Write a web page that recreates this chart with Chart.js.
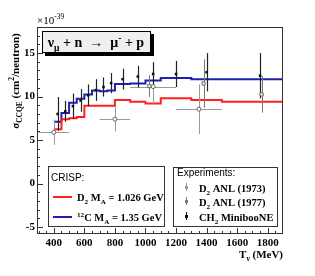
<!DOCTYPE html>
<html>
<head>
<meta charset="utf-8">
<script src="https://cdn.jsdelivr.net/npm/chart.js@4.4.0/dist/chart.umd.min.js"></script>
<style>
body { margin: 0; background: #fff; }
#marco { width: 315px; height: 276px; position: relative; }
</style>
</head>
<body>
<div id="marco"><canvas id="grafico"></canvas></div>
<script>
// Bins de las curvas CRISP (MeV) y valores (x10^-39 cm^2/neutron)
const bordesBin = [400, 450, 500, 550, 600, 650, 700, 750, 800, 900, 1000, 1100, 1300, 1500, 1900];
const crispD2 = [6.25, 7.4, 7.5, 7.65, 8.95, 8.95, 8.95, 8.95, 9.6, 9.4, 9.2, 9.8, 9.6, 9.4];
const crispC12 = [7.1, 8.1, 9.3, 9.75, 10.25, 10.7, 10.6, 10.7, 11.45, 11.5, 11.85, 12.15, 12.0, 12.0];

// MiniBooNE CH2
const mbE = [425, 475, 525, 575, 625, 675, 725, 775, 850, 950, 1050, 1200, 1400, 1750];
const mbSigma = [8.0, 8.3, 8.9, 9.55, 10.15, 10.75, 11.1, 11.55, 12.0, 12.3, 12.6, 12.6, 12.8, 12.4];
const mbErr = [1.95, 1.2, 1.45, 1.3, 1.25, 1.25, 1.1, 1.15, 1.2, 1.25, 1.35, 1.5, 2.2, 2.6];

// D2 ANL (1973)
const anl73E = [400, 800, 1050, 1350];
const anl73Sigma = [5.9, 7.4, 11.15, 8.55];
const anl73Err = [1.45, 1.4, 2.1, 2.85];
const anl73AnchoE = [100, 100, 150, 150];

// D2 ANL (1977)
const anl77E = [1025, 1380, 1760];
const anl77Sigma = [11.2, 11.5, 10.25];
const anl77Err = [1.25, 2.8, 2.1];

// Ticks
const ticksX = [400, 600, 800, 1000, 1200, 1400, 1600, 1800];
const ticksY = [-5, 0, 5, 10, 15];

const SERIF = "'Liberation Serif', 'DejaVu Serif', serif";
const SANS = "'Liberation Sans', Arial, sans-serif";

function pasosDe(valores) {
    return bordesBin.map((x, i) => ({ x: x, y: valores[Math.min(i, valores.length - 1)] }));
}

// Texto con subindices (1) y superindices (2)
function textoRico(ctx, partes, x, y, align, size, family, weight) {
    const fuente = s => `${weight} ${s}px ${family}`;
    let ancho = 0;
    partes.forEach(([t, k]) => {
        ctx.font = fuente(k ? size * 0.68 : size);
        ancho += ctx.measureText(t).width;
    });
    let cx = align === 'right' ? x - ancho : (align === 'center' ? x - ancho / 2 : x);
    partes.forEach(([t, k]) => {
        const s = k ? size * 0.68 : size;
        ctx.font = fuente(s);
        const dy = k === 1 ? size * 0.28 : (k === 2 ? -size * 0.42 : 0);
        ctx.fillText(t, cx, y + dy);
        cx += ctx.measureText(t).width;
    });
    return ancho;
}

const pluginDecoracion = {
    id: 'decoracion',
    beforeDatasetDraw(chart, args) {
        // barras de error antes de los marcadores
        if (args.index !== 4) return;
        const ctx = chart.ctx;
        const xs = chart.scales.x, ys = chart.scales.y;
        const area = chart.chartArea;
        ctx.save();
        ctx.beginPath();
        ctx.rect(area.left, area.top, area.right - area.left, area.bottom - area.top);
        ctx.clip();
        ctx.lineWidth = 1;

        ctx.strokeStyle = '#9a9a9a';
        anl73E.forEach((e, i) => {
            const px = Math.round(xs.getPixelForValue(e)) + 0.5;
            const py = Math.round(ys.getPixelForValue(anl73Sigma[i])) + 0.5;
            ctx.beginPath();
            ctx.moveTo(xs.getPixelForValue(e - anl73AnchoE[i]), py);
            ctx.lineTo(xs.getPixelForValue(e + anl73AnchoE[i]), py);
            ctx.moveTo(px, ys.getPixelForValue(anl73Sigma[i] + anl73Err[i]));
            ctx.lineTo(px, ys.getPixelForValue(anl73Sigma[i] - anl73Err[i]));
            ctx.stroke();
        });

        ctx.strokeStyle = '#777';
        anl77E.forEach((e, i) => {
            const px = Math.round(xs.getPixelForValue(e)) + 0.5;
            ctx.beginPath();
            ctx.moveTo(px, ys.getPixelForValue(anl77Sigma[i] + anl77Err[i]));
            ctx.lineTo(px, ys.getPixelForValue(anl77Sigma[i] - anl77Err[i]));
            ctx.stroke();
        });

        ctx.strokeStyle = '#222';
        ctx.lineWidth = 1.2;
        mbE.forEach((e, i) => {
            const px = Math.round(xs.getPixelForValue(e)) + 0.5;
            ctx.beginPath();
            ctx.moveTo(px, ys.getPixelForValue(mbSigma[i] + mbErr[i]));
            ctx.lineTo(px, ys.getPixelForValue(mbSigma[i] - mbErr[i]));
            ctx.stroke();
        });
        ctx.restore();
    },
    afterDraw(chart) {
        const ctx = chart.ctx;
        const xs = chart.scales.x, ys = chart.scales.y;
        const a = chart.chartArea;
        ctx.save();

        // marco
        ctx.strokeStyle = '#333';
        ctx.lineWidth = 1;
        ctx.strokeRect(Math.round(a.left) + 0.5, Math.round(a.top) + 0.5,
            Math.round(a.right - a.left) - 1, Math.round(a.bottom - a.top) - 1);

        // ticks hacia dentro
        ctx.beginPath();
        for (let v = 300; v <= 1900; v += 50) {
            const px = Math.round(xs.getPixelForValue(v)) + 0.5;
            if (px <= a.left + 1 || px >= a.right - 1) continue;
            const largo = v % 200 === 0 ? 6 : 3;
            ctx.moveTo(px, a.bottom);
            ctx.lineTo(px, a.bottom - largo);
        }
        for (let v = -5; v <= 18; v += 1) {
            const py = Math.round(ys.getPixelForValue(v)) + 0.5;
            const largo = v % 5 === 0 ? 6 : 3;
            ctx.moveTo(a.left, py);
            ctx.lineTo(a.left + largo, py);
        }
        ctx.stroke();

        ctx.fillStyle = '#000';
        ctx.textBaseline = 'alphabetic';

        // x10^-39
        textoRico(ctx, [['\u00d710', 0], ['-39', 2]], a.left, 24, 'left', 11, SERIF, 'normal');

        // titulo eje y
        ctx.save();
        ctx.translate(19, 81);
        ctx.rotate(-Math.PI / 2);
        textoRico(ctx, [['\u03c3', 0], ['CCQE', 1], [' (cm', 0], ['2', 2], ['/neutron)', 0]], 0, 0, 'center', 11, SERIF, 'bold');
        ctx.restore();

        // titulo eje x
        textoRico(ctx, [['T', 0], ['\u03bd', 1], [' (MeV)', 0]], a.right, 258, 'right', 11, SERIF, 'bold');

        // caja de la reaccion
        ctx.fillStyle = '#000';
        ctx.fillRect(45, 34, 109, 22);
        ctx.fillStyle = '#efefef';
        ctx.fillRect(42, 31, 109, 22);
        ctx.strokeStyle = '#000';
        ctx.strokeRect(42.5, 31.5, 108, 21);
        ctx.fillStyle = '#000';
        textoRico(ctx, [['\u03bd', 0], ['\u03bc', 1], [' + n  \u2192  \u03bc', 0], ['-', 2], [' + p', 0]], 96, 47, 'center', 14, SERIF, 'bold');

        // leyenda CRISP
        ctx.fillStyle = '#fff';
        ctx.fillRect(48, 166, 117, 61);
        ctx.strokeStyle = '#333';
        ctx.strokeRect(48.5, 166.5, 116, 60);
        ctx.fillStyle = '#000';
        ctx.font = `10px ${SANS}`;
        ctx.fillText('CRISP:', 51, 181);
        ctx.lineWidth = 2;
        ctx.strokeStyle = '#ff2020';
        ctx.beginPath(); ctx.moveTo(53, 197); ctx.lineTo(72, 197); ctx.stroke();
        ctx.strokeStyle = '#2020b0';
        ctx.beginPath(); ctx.moveTo(53, 217); ctx.lineTo(72, 217); ctx.stroke();
        textoRico(ctx, [['D', 0], ['2', 1], [' M', 0], ['A', 1], [' = 1.026 GeV', 0]], 77, 201, 'left', 10.5, SERIF, 'bold');
        textoRico(ctx, [['12', 2], ['C M', 0], ['A', 1], [' = 1.35 GeV', 0]], 77, 221, 'left', 10.5, SERIF, 'bold');

        // leyenda experimentos
        ctx.lineWidth = 1;
        ctx.fillStyle = '#fff';
        ctx.fillRect(173, 167, 105, 60);
        ctx.strokeStyle = '#333';
        ctx.strokeRect(173.5, 167.5, 104, 59);
        ctx.fillStyle = '#000';
        ctx.font = `10px ${SANS}`;
        ctx.fillText('Experiments:', 177, 176);
        const simbolos = [['#9a9a9a', 189], ['#777', 203], ['#111', 218]];
        simbolos.forEach(([c, yy]) => {
            ctx.strokeStyle = c;
            ctx.fillStyle = c;
            ctx.beginPath(); ctx.moveTo(186.5, yy - 6); ctx.lineTo(186.5, yy + 2); ctx.stroke();
            ctx.fillRect(185, yy - 3, 3, 3);
        });
        ctx.fillStyle = '#000';
        textoRico(ctx, [['D', 0], ['2', 1], [' ANL (1973)', 0]], 199, 192, 'left', 10.5, SERIF, 'bold');
        textoRico(ctx, [['D', 0], ['2', 1], [' ANL (1977)', 0]], 199, 206, 'left', 10.5, SERIF, 'bold');
        textoRico(ctx, [['CH', 0], ['2', 1], [' MinibooNE', 0]], 199, 221, 'left', 10.5, SERIF, 'bold');

        ctx.restore();
    }
};

new Chart(document.getElementById('grafico'), {
    type: 'scatter',
    data: {
        datasets: [
            {
                type: 'line', label: 'D2 MA = 1.026 GeV', data: pasosDe(crispD2),
                borderColor: '#ff2020', borderWidth: 2, pointRadius: 0, stepped: 'before',
                fill: false, order: 2
            },
            {
                type: 'line', label: '12C MA = 1.35 GeV', data: pasosDe(crispC12),
                borderColor: '#2020b0', borderWidth: 2, pointRadius: 0, stepped: 'before',
                fill: false, order: 2
            },
            {
                label: 'CH2 MiniBooNE', data: mbE.map((e, i) => ({ x: e, y: mbSigma[i] })),
                pointStyle: 'rect', pointRadius: 1.8, backgroundColor: '#111', borderColor: '#111',
                borderWidth: 0, order: 1
            },
            {
                label: 'D2 ANL (1977)', data: anl77E.map((e, i) => ({ x: e, y: anl77Sigma[i] })),
                pointStyle: 'rect', pointRadius: 2.2, backgroundColor: '#fff', borderColor: '#666',
                borderWidth: 1, order: 1
            },
            {
                label: 'D2 ANL (1973)', data: anl73E.map((e, i) => ({ x: e, y: anl73Sigma[i] })),
                pointStyle: 'circle', pointRadius: 2, backgroundColor: '#fff', borderColor: '#666',
                borderWidth: 1, order: 1
            }
        ]
    },
    options: {
        responsive: true,
        maintainAspectRatio: false,
        animation: false,
        events: [],
        layout: { padding: { left: 0, right: 32, top: 27, bottom: 0 } },
        plugins: { legend: { display: false }, tooltip: { enabled: false } },
        scales: {
            x: {
                type: 'linear', min: 290, max: 1900,
                afterBuildTicks: s => { s.ticks = ticksX.map(v => ({ value: v })); },
                afterFit: s => { s.height = 42; },
                grid: { display: false, drawTicks: false },
                border: { display: false },
                ticks: {
                    padding: 3, color: '#000', maxRotation: 0, autoSkip: false,
                    callback: v => String(v),
                    font: { family: SERIF, weight: 'bold', size: 11 }
                }
            },
            y: {
                type: 'linear', min: -5.8, max: 18,
                afterBuildTicks: s => { s.ticks = ticksY.map(v => ({ value: v })); },
                afterFit: s => { s.width = 37; },
                grid: { display: false, drawTicks: false },
                border: { display: false },
                ticks: {
                    padding: 2, color: '#000',
                    callback: v => String(v),
                    font: { family: SERIF, weight: 'bold', size: 11 }
                }
            }
        }
    },
    plugins: [pluginDecoracion]
});
</script>
</body>
</html>
